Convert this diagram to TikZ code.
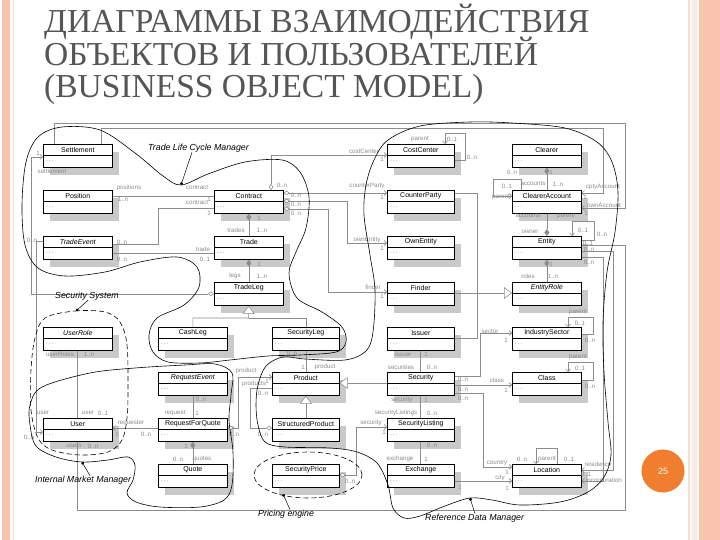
\documentclass[tikz,border=0pt]{standalone}
\usepackage{fontspec}
\setmainfont{Liberation Sans}
\newfontfamily\titlefont{Liberation Serif}
\usetikzlibrary{arrows.meta,shadows}
\definecolor{pinkA}{HTML}{F9C4AE}
\definecolor{pinkB}{HTML}{F8DDD1}
\definecolor{ttl}{HTML}{555555}
\definecolor{orng}{HTML}{F07E2E}
\definecolor{lnc}{HTML}{8C8C8C}
\definecolor{lbc}{HTML}{8A8A8A}
\definecolor{shd}{HTML}{C9C9C9}
\tikzset{
  clsbox/.style={draw=black,line width=0.65pt,fill=white,minimum height=23pt,inner sep=0pt,
    drop shadow={shadow xshift=7pt,shadow yshift=-8pt,fill=shd,opacity=1}},
  clsname/.style={inner sep=0pt,font=\fontsize{7}{8}\selectfont},
  clsdots/.style={inner sep=0pt,text=black!55,font=\fontsize{6}{6}\selectfont},
  conn/.style={draw=lnc,line width=0.55pt},
  lab/.style={inner sep=0pt,text=lbc,font=\fontsize{6.2}{7}\selectfont},
  bnd/.style={draw=black,line width=0.6pt},
  bndd/.style={bnd,dash pattern=on 5pt off 3pt},
  sub/.style={inner sep=0pt,font=\fontsize{8.8}{10}\selectfont\itshape},
  ptr/.style={draw=black,line width=0.5pt,-{Circle[length=3pt]}},
  odia/.tip={Diamond[fill=white,length=6pt,width=4.5pt]},
  fdia/.tip={Diamond[length=7pt,width=5pt]},
  tri/.tip={Triangle[fill=white,length=8pt,width=12pt]},
  nav/.tip={Straight Barb[length=2.5pt,width=5pt]},
}
\newcommand\umlc[6]{%
  \node[clsbox,minimum width=#4pt,anchor=north west] (#1) at (#2,#3) {};
  \draw[line width=0.65pt] ([yshift=-11pt]#1.north west) -- ([yshift=-11pt]#1.north east);
  \node[clsname] (#1-n) at ([yshift=-5.8pt]#1.north) {#6{}#5};
  \node[clsdots,anchor=west] (#1-d) at ([xshift=3pt,yshift=-17pt]#1.north west) {.\,.\,.};
}
\newcommand\mylab[4]{\node[lab] (#1) at (#2,#3) {#4};}
\begin{document}
\begin{tikzpicture}[x=1pt,y=-1pt]
\useasboundingbox (0,0) rectangle (720,540);
% slide decoration
\fill[pinkA] (2,0) rectangle (10,540);
\fill[pinkB] (12.5,0) rectangle (13.8,540);
\fill[pinkB] (688,0) rectangle (690,540);
\fill[pinkB!60] (692,0) rectangle (697,540);
\fill[pinkA] (699,0) rectangle (720,540);
\node[circle,fill=orng,minimum size=43pt,inner sep=0pt,text=white,font=\fontsize{9}{10}\selectfont] (pg) at (663,471) {25};
% title
\node[anchor=base west,inner sep=0pt,text=ttl,font=\titlefont\fontsize{33.5}{34}\selectfont] (t1) at (44,33) {ДИАГРАММЫ ВЗАИМОДЕЙСТВИЯ};
\node[anchor=base west,inner sep=0pt,text=ttl,font=\titlefont\fontsize{33.5}{34}\selectfont] (t2) at (44,66) {ОБЪЕКТОВ И ПОЛЬЗОВАТЕЛЕЙ};
\node[anchor=base west,inner sep=0pt,text=ttl,font=\titlefont\fontsize{33.5}{34}\selectfont] (t3) at (44,98) {(BUSINESS OBJECT MODEL)};
% classes
\umlc{Settlement}{43}{144}{69}{Settlement}{}
\umlc{Position}{43}{190}{69}{Position}{}
\umlc{TradeEvent}{43}{236}{69}{TradeEvent}{\itshape}
\umlc{UserRole}{43}{327}{69}{UserRole}{\itshape}
\umlc{User}{43}{418}{69}{User}{}
\umlc{Contract}{214}{190}{69}{Contract}{}
\umlc{Trade}{214}{236}{69}{Trade}{}
\umlc{TradeLeg}{214}{282}{69}{TradeLeg}{}
\umlc{CashLeg}{158}{327}{69}{CashLeg}{}
\umlc{SecurityLeg}{272}{327}{67}{SecurityLeg}{}
\umlc{RequestEvent}{158}{372}{69}{RequestEvent}{\itshape}
\umlc{RequestForQuote}{158}{418}{69}{RequestForQuote}{}
\umlc{Quote}{158}{464}{69}{Quote}{}
\umlc{Product}{272}{372}{67}{Product}{}
\umlc{StructuredProduct}{272}{418}{67}{StructuredProduct}{}
\umlc{SecurityPrice}{272}{464}{67}{SecurityPrice}{}
\umlc{CostCenter}{387}{144}{67}{CostCenter}{}
\umlc{CounterParty}{387}{190}{67}{CounterParty}{}
\umlc{OwnEntity}{387}{236}{67}{OwnEntity}{}
\umlc{Finder}{387}{282}{67}{Finder}{}
\umlc{Issuer}{387}{327}{67}{Issuer}{}
\umlc{Security}{387}{372}{67}{Security}{}
\umlc{SecurityListing}{387}{418}{67}{SecurityListing}{}
\umlc{Exchange}{387}{464}{67}{Exchange}{}
\umlc{Clearer}{512}{144}{69}{Clearer}{}
\umlc{ClearerAccount}{512}{190}{69}{ClearerAccount}{}
\umlc{Entity}{512}{236}{69}{Entity}{}
\umlc{EntityRole}{512}{282}{69}{EntityRole}{\itshape}
\umlc{IndustrySector}{512}{327}{69}{IndustrySector}{}
\umlc{Class}{512}{372}{69}{Class}{}
\umlc{Location}{512}{464}{69}{Location}{}
% connectors
\draw[conn,{odia}-{nav}] (TradeLeg.west) -- (TradeLeg.west -| 31,0) -- (31,157) -- (Settlement.west |- 0,157);
\draw[conn,-{nav}] (Settlement.north -| 54,0) -- (54,123) -- (625,123) -- (625,208) -- (ClearerAccount.east |- 0,208);
\draw[conn,-{nav}] (Settlement.north -| 101,0) -- (101,128) -- (603,128) -- (603,193) -- (ClearerAccount.east |- 0,193);
\draw[conn] (Position.east |- 0,196) -- (Contract.west |- 0,196);
\draw[conn] (TradeEvent.east |- 0,244) -- (158,244) -- (158,208) -- (Contract.west |- 0,208);
\draw[conn] (TradeEvent.east |- 0,253) -- (Trade.west |- 0,253);
\draw[conn,{fdia}-] (Contract.south) -- (Trade.north);
\draw[conn,{fdia}-] (Trade.south) -- (TradeLeg.north);
\draw[conn,{tri}-] (TradeLeg.south) -- (248.5,318) -- (CashLeg.north |- 0,318) -- (CashLeg.north);
\draw[conn] (248.5,318) -- (SecurityLeg.north |- 0,318) -- (SecurityLeg.north);
\draw[conn] (SecurityLeg.south) -- (Product.north);
\draw[conn,{odia}-{nav}] (Contract.north -| 271,0) -- (271,155) -- (CostCenter.west |- 0,155);
\draw[conn,{odia}-{nav}] (Contract.east |- 0,193) -- (CounterParty.west |- 0,193);
\draw[conn,{odia}-{nav}] (Contract.east |- 0,201) -- (347,201) -- (347,243) -- (OwnEntity.west |- 0,243);
\draw[conn,{odia}-{nav}] (Contract.east |- 0,209) -- (328,209) -- (328,292) -- (Finder.west |- 0,292);
\draw[conn,-{nav}] (CostCenter.east |- 0,160) -- (465,160) -- (465,133) -- (445,133) -- (CostCenter.north -| 445,0);
\draw[conn,{tri}-] (EntityRole.west |- 0,293) -- (477,293);
\draw[conn] (CounterParty.east |- 0,193) -- (477,193) -- (477,338) -- (Issuer.east |- 0,338);
\draw[conn] (Finder.east |- 0,293) -- (477,293);
\draw[conn,{fdia}-] (Clearer.south) -- (ClearerAccount.north);
\draw[conn,-{nav}] (ClearerAccount.north -| 521,0) -- (521,179) -- (493,179) -- (493,196) -- (ClearerAccount.west |- 0,196);
\draw[conn,-{fdia}] (ClearerAccount.south) -- (Entity.north);
\draw[conn,-{nav}] (Entity.east |- 0,240) -- (594,240) -- (594,221) -- (572,221) -- (Entity.north -| 572,0);
\draw[conn] (Entity.east |- 0,245) -- (625,245) -- (625,510) -- (77,510) -- (User.south -| 77,0);
\draw[conn,-{nav}] (Entity.east |- 0,251) -- (613,251) -- (613,470) -- (Location.east |- 0,470);
\draw[conn,-{nav}] (Entity.east |- 0,257) -- (603,257) -- (603,481) -- (Location.east |- 0,481);
\draw[conn,{fdia}-] (Entity.south) -- (EntityRole.north);
\draw[conn,-{nav}] (IndustrySector.east |- 0,334) -- (593,334) -- (593,317) -- (568,317) -- (IndustrySector.north -| 568,0);
\draw[conn,-{nav}] (Class.east |- 0,380) -- (593,380) -- (593,362) -- (568,362) -- (Class.north -| 568,0);
\draw[conn,-{nav}] (Security.east |- 0,376) -- (480,376) -- (480,333) -- (IndustrySector.west |- 0,333);
\draw[conn,-{nav}] (Security.east |- 0,385) -- (Class.west |- 0,385);
\draw[conn,-{nav}] (Security.east |- 0,393) -- (483,393) -- (483,467) -- (Location.west |- 0,467);
\draw[conn,-{nav}] (Exchange.east |- 0,481) -- (Location.west |- 0,481);
\draw[conn,-{nav}] (Location.north -| 557,0) -- (557,448) -- (536,448) -- (Location.north -| 536,0);
\draw[conn] (Issuer.south -| 420,0) -- (Security.north -| 420,0);
\draw[conn] (Security.south -| 420,0) -- (SecurityListing.north -| 420,0);
\draw[conn] (SecurityListing.south -| 420,0) -- (Exchange.north -| 420,0);
\draw[conn,{tri}-] (Product.east |- 0,383) -- (Security.west |- 0,383);
\draw[conn,{tri}-] (Product.south) -- (StructuredProduct.north);
\draw[conn,{odia}-{nav}] (SecurityPrice.east |- 0,475) -- (356,475) -- (356,427) -- (SecurityListing.west |- 0,427);
\draw[conn] (RequestEvent.south) -- (RequestForQuote.north);
\draw[conn,{fdia}-] (RequestForQuote.south) -- (Quote.north);
\draw[conn,-{nav}] (RequestForQuote.west |- 0,428) -- (User.east |- 0,428);
\draw[conn,{odia}-{nav}] (RequestForQuote.east |- 0,428) -- (238,428) -- (238,377) -- (Product.west |- 0,377);
\draw[conn,{odia}-] (StructuredProduct.west |- 0,428) -- (250,428) -- (250,388) -- (Product.west |- 0,388);
\draw[conn,-{nav}] (TradeEvent.west |- 0,241) -- (36,241) -- (36,432) -- (User.west |- 0,432);
\draw[conn] (UserRole.south -| 77,0) -- (User.north -| 77,0);
% labels
\mylab{a1}{38}{153}{1}
\mylab{a2}{52}{171}{settlement}
\mylab{a3}{129}{188}{positions}
\mylab{a4}{123}{199}{1..n}
\mylab{a5}{197}{188}{contract}
\mylab{a6}{209}{199}{1}
\mylab{a7}{197}{203}{contract}
\mylab{a8}{209}{213}{1}
\mylab{a9}{122}{242}{0..n}
\mylab{a10}{32}{240}{0..n}
\mylab{a11}{122}{259}{0..n}
\mylab{a12}{203}{249}{trade}
\mylab{a13}{205}{259}{0..1}
\mylab{a14}{259}{218}{1}
\mylab{a15}{236}{230}{trades}
\mylab{a16}{262}{230}{1..n}
\mylab{a17}{259}{264}{1}
\mylab{a18}{235}{276}{legs}
\mylab{a19}{262}{276}{1..n}
\mylab{a20}{282}{185}{0..n}
\mylab{a21}{296}{195}{0..n}
\mylab{a22}{296}{204}{0..n}
\mylab{a23}{296}{213}{0..n}
\mylab{a24}{364}{151}{costCenter}
\mylab{a25}{382}{159}{1}
\mylab{a26}{367}{186}{counterParty}
\mylab{a27}{382}{197}{1}
\mylab{a28}{367}{240}{ownEntity}
\mylab{a29}{382}{248}{1}
\mylab{a30}{373}{287}{finder}
\mylab{a31}{382}{296}{1}
\mylab{a32}{420}{139}{parent}
\mylab{a33}{452}{139}{0..1}
\mylab{a34}{472}{157}{0..n}
\mylab{a35}{551}{172}{1}
\mylab{a36}{512}{172}{0..n}
\mylab{a37}{507}{186}{0..1}
\mylab{a38}{533}{184}{accounts}
\mylab{a39}{558}{184}{1..n}
\mylab{a40}{501}{197}{parent}
\mylab{a41}{528}{216}{accounts}
\mylab{a42}{530}{232}{owner}
\mylab{a43}{566}{216}{parent}
\mylab{a44}{583}{230}{0..1}
\mylab{a45}{602}{234}{0..n}
\mylab{a46}{603}{187}{cptyAccount}
\mylab{a47}{585}{197}{1}
\mylab{a48}{604}{205}{ownAccount}
\mylab{a49}{586}{213}{1}
\mylab{a50}{588}{243}{0..1}
\mylab{a51}{589}{249}{0..n}
\mylab{a52}{589}{262}{0..n}
\mylab{a53}{551}{264}{1}
\mylab{a54}{528}{276}{roles}
\mylab{a55}{553}{276}{1..n}
\mylab{a56}{578}{312}{parent}
\mylab{a57}{580}{323}{0..1}
\mylab{a58}{590}{340}{0..n}
\mylab{a59}{578}{357}{parent}
\mylab{a60}{580}{368}{0..1}
\mylab{a61}{590}{386}{0..n}
\mylab{a62}{490}{332}{sector}
\mylab{a63}{506}{340}{1}
\mylab{a64}{463}{379}{0..n}
\mylab{a65}{497}{380}{class}
\mylab{a66}{506}{390}{1}
\mylab{a67}{463}{389}{0..n}
\mylab{a68}{463}{398}{0..n}
\mylab{a69}{403}{354}{issuer}
\mylab{a70}{426}{354}{1}
\mylab{a71}{401}{367}{securities}
\mylab{a72}{432}{367}{0..n}
\mylab{a73}{402}{400}{security}
\mylab{a74}{426}{400}{1}
\mylab{a75}{396}{413}{securityListings}
\mylab{a76}{432}{413}{0..n}
\mylab{a77}{432}{445}{0..n}
\mylab{a78}{400}{459}{exchange}
\mylab{a79}{426}{459}{1}
\mylab{a80}{371}{423}{security}
\mylab{a81}{384}{432}{1}
\mylab{a82}{350}{481}{0..n}
\mylab{a83}{497}{463}{country}
\mylab{a84}{507}{472}{1}
\mylab{a85}{500}{478}{city}
\mylab{a86}{507}{488}{1}
\mylab{a87}{460}{487}{1}
\mylab{a88}{522}{459}{0..n}
\mylab{a89}{547}{459}{parent}
\mylab{a90}{569}{459}{0..1}
\mylab{a91}{598}{464}{residence}
\mylab{a92}{586}{474}{0..1}
\mylab{a93}{604}{481}{incorporation}
\mylab{a94}{292}{353}{0..n}
\mylab{a95}{303}{367}{1}
\mylab{a96}{325}{367}{product}
\mylab{a97}{246}{371}{product}
\mylab{a98}{267}{381}{1}
\mylab{a99}{254}{384}{products}
\mylab{a100}{263}{393}{0..n}
\mylab{a101}{234}{434}{0..n}
\mylab{a102}{263}{434}{0..n}
\mylab{a103}{201}{399}{0..n}
\mylab{a104}{175}{413}{request}
\mylab{a105}{197}{413}{1}
\mylab{a106}{186}{446}{1}
\mylab{a107}{178}{459}{0..n}
\mylab{a108}{202}{459}{quotes}
\mylab{a109}{43}{413}{user}
\mylab{a110}{88}{413}{user}
\mylab{a111}{103}{413}{0..1}
\mylab{a112}{131}{423}{requester}
\mylab{a113}{117}{434}{1}
\mylab{a114}{146}{434}{0..n}
\mylab{a115}{29}{437}{0..n}
\mylab{a116}{74}{446}{users}
\mylab{a117}{93}{446}{0..n}
\mylab{a118}{60}{354}{userRoles}
\mylab{a119}{89}{354}{1..n}
% subsystem boundaries
\draw[bnd] plot[smooth cycle,tension=0.55] coordinates {(22,205) (26,162) (38,137) (62,127) (100,130) (135,153) (163,176) (181,185) (208,174) (245,162) (282,160) (300,172) (309,197) (306,228) (296,252) (289,273) (297,298) (322,312) (342,327) (346,342) (336,352) (300,355) (268,356) (230,360) (200,363) (168,362) (153,352) (149,335) (157,318) (184,305) (199,287) (197,267) (177,257) (140,262) (105,272) (65,276) (38,268) (25,245)};
\draw[bnd] plot[smooth cycle,tension=0.55] coordinates {(42,387) (90,373) (135,368) (185,365) (215,364) (232,373) (231,395) (229,420) (233,452) (232,485) (224,500) (200,507) (160,507) (136,502) (127,493) (133,480) (135,465) (128,457) (108,460) (82,462) (56,457) (36,446) (30,425) (30,405)};
\draw[bndd] plot[smooth cycle,tension=0.55] coordinates {(45,318) (75,311) (105,312) (120,322) (127,345) (128,390) (127,418) (122,440) (108,452) (80,455) (52,450) (38,438) (31,410) (31,370) (35,338)};
\draw[bnd] plot[smooth cycle,tension=0.55] coordinates {(388,140) (420,126) (470,122) (512,123) (565,128) (597,142) (612,162) (618,192) (615,232) (607,272) (603,322) (604,372) (608,422) (611,455) (604,477) (588,492) (560,502) (520,505) (492,500) (470,498) (445,506) (420,516) (404,518) (393,508) (388,485) (377,463) (357,452) (330,448) (285,447) (265,442) (258,425) (256,405) (258,385) (266,366) (283,357) (305,359) (345,360) (366,351) (373,332) (375,290) (370,255) (364,215) (366,185) (374,160)};
\draw[bndd] (308,475) ellipse [x radius=54pt, y radius=23pt];
% subsystem labels
\node[sub,anchor=west] (tlcm) at (148,148) {Trade Life Cycle Manager};
\node[sub,anchor=west] (secsys) at (55,296) {Security System};
\node[sub,anchor=west] (imm) at (35,480) {Internal Market Manager};
\node[sub,anchor=west] (pe) at (258,514) {Pricing engine};
\node[sub,anchor=west] (rdm) at (425,518) {Reference Data Manager};
\coordinate (tlcmp) at (181,185);
\coordinate (secsysp) at (76,311);
\coordinate (immp) at (82,462);
\coordinate (pep) at (283,494);
\coordinate (rdmp) at (470,498);
\draw[ptr] (tlcm.south -| 192,0) -- (tlcmp);
\draw[ptr] (secsys.south -| 88,0) -- (secsysp);
\draw[ptr] (imm.north -| 90,0) -- (immp);
\draw[ptr] (pe.north -| 290,0) -- (pep);
\draw[ptr] (rdm.north -| 475,0) -- (rdmp);
\end{tikzpicture}
\end{document}
